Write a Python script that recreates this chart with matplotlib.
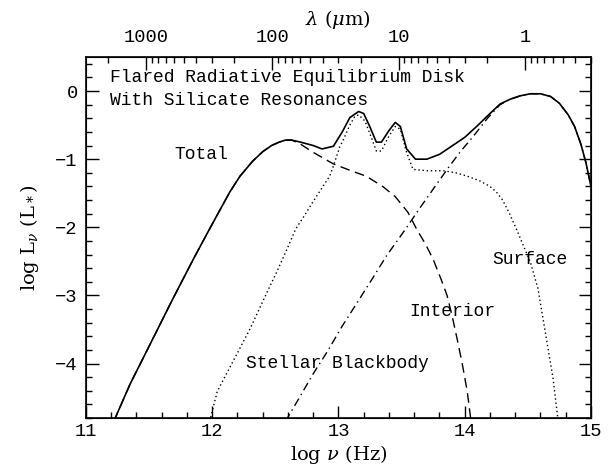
import numpy as np
import matplotlib
matplotlib.use("Agg")
import matplotlib.pyplot as plt
from matplotlib.ticker import MultipleLocator, FuncFormatter, LogLocator

plt.rcParams['font.family'] = ['DejaVu Serif']
plt.rcParams['mathtext.fontset'] = 'dejavuserif'
MONO = ['Liberation Mono', 'DejaVu Sans Mono']

# log nu (Hz) / log L_nu (L_*)
total_x = [11.22, 11.35, 11.51, 11.68, 11.85, 11.96, 12.06, 12.14, 12.22, 12.32, 12.40,
           12.47, 12.53, 12.58, 12.63, 12.70, 12.80, 12.87, 12.96, 13.03, 13.09, 13.16,
           13.20, 13.25, 13.30, 13.34, 13.40, 13.45, 13.49, 13.54, 13.61, 13.70, 13.80,
           13.88, 14.00, 14.10, 14.20, 14.28, 14.36, 14.44, 14.52, 14.60, 14.68, 14.75,
           14.82, 14.87, 14.92, 14.96, 15.0]
total_y = [-4.85, -4.30, -3.71, -3.08, -2.47, -2.09, -1.75, -1.48, -1.25, -1.03, -0.89,
           -0.80, -0.75, -0.72, -0.72, -0.75, -0.80, -0.85, -0.81, -0.60, -0.39, -0.30,
           -0.33, -0.53, -0.75, -0.75, -0.58, -0.46, -0.52, -0.85, -1.00, -1.00, -0.93,
           -0.83, -0.68, -0.51, -0.33, -0.19, -0.12, -0.07, -0.04, -0.04, -0.08, -0.18,
           -0.35, -0.52, -0.78, -1.05, -1.40]

interior_x = [11.22, 11.35, 11.51, 11.68, 11.85, 11.96, 12.06, 12.14, 12.22, 12.32, 12.40,
              12.47, 12.53, 12.58, 12.63, 12.70, 12.80, 12.96, 13.10, 13.22, 13.35, 13.45,
              13.55, 13.62, 13.69, 13.75, 13.81, 13.86, 13.90, 13.94, 13.98, 14.02, 14.05]
interior_y = [-4.85, -4.30, -3.71, -3.08, -2.47, -2.09, -1.75, -1.48, -1.25, -1.03, -0.89,
              -0.80, -0.75, -0.72, -0.72, -0.78, -0.90, -1.07, -1.17, -1.25, -1.40, -1.55,
              -1.78, -2.03, -2.25, -2.47, -2.75, -3.00, -3.30, -3.64, -4.00, -4.41, -4.85]

surface_x = [11.98, 12.04, 12.17, 12.30, 12.41, 12.51, 12.59, 12.66, 12.74, 12.80, 12.87,
             12.93, 12.96, 13.01, 13.04, 13.09, 13.13, 13.16, 13.21, 13.26, 13.30, 13.34,
             13.40, 13.45, 13.49, 13.54, 13.59, 13.70, 13.83, 13.93, 14.02, 14.12, 14.20,
             14.25, 14.30, 14.35, 14.41, 14.52, 14.58, 14.62, 14.66, 14.70, 14.74]
surface_y = [-4.85, -4.41, -3.95, -3.49, -3.05, -2.66, -2.33, -2.03, -1.80, -1.62, -1.42,
             -1.25, -1.10, -0.82, -0.71, -0.50, -0.37, -0.35, -0.44, -0.68, -0.88, -0.88,
             -0.66, -0.52, -0.56, -0.90, -1.15, -1.17, -1.17, -1.20, -1.25, -1.32, -1.40,
             -1.48, -1.60, -1.78, -2.03, -2.51, -2.90, -3.34, -3.78, -4.22, -4.85]

stellar_x = [12.58, 12.70, 12.80, 12.91, 13.03, 13.15, 13.27, 13.38, 13.53, 13.64, 13.75,
             13.88, 13.97, 14.07, 14.18, 14.28, 14.36, 14.44, 14.52, 14.60, 14.68, 14.75,
             14.82, 14.87, 14.92, 14.96, 15.0]
stellar_y = [-4.85, -4.47, -4.15, -3.83, -3.45, -3.10, -2.75, -2.42, -2.03, -1.73, -1.44,
             -1.10, -0.88, -0.66, -0.40, -0.20, -0.12, -0.07, -0.04, -0.04, -0.08, -0.18,
             -0.35, -0.52, -0.78, -1.05, -1.40]

nu_ticks = [11, 12, 13, 14, 15]
lam_ticks = [1000, 100, 10, 1]
C_UM = 2.998e14  # speed of light in micron/s

fig = plt.figure(figsize=(6.14, 4.66), dpi=100)
ax = fig.add_axes([0.140, 0.103, 0.8225, 0.7747])

lw = 1.0
ax.plot(interior_x, interior_y, color='black', lw=lw, linestyle=(0, (7, 4)))
ax.plot(surface_x, surface_y, color='black', lw=lw, linestyle=(0, (1, 2)))
ax.plot(stellar_x, stellar_y, color='black', lw=lw, linestyle=(0, (6, 3, 1, 3)))
ax.plot(total_x, total_y, color='black', lw=1.2)

ax.set_xlim(11, 15)
ax.set_ylim(-4.8, 0.5)
ax.set_xticks(nu_ticks)
ax.xaxis.set_minor_locator(MultipleLocator(0.2))
ax.yaxis.set_major_locator(MultipleLocator(1))
ax.yaxis.set_minor_locator(MultipleLocator(0.2))
ax.yaxis.set_major_formatter(FuncFormatter(lambda v, p: '%d' % round(v) if round(v) >= 0 else '\u2212%d' % abs(round(v))))
ax.tick_params(which='both', direction='in', right=True, top=False, width=1.0)
ax.tick_params(which='major', length=9)
ax.tick_params(which='minor', length=4.5)
ax.tick_params(axis='y', pad=6)
for lab in ax.get_xticklabels() + ax.get_yticklabels():
    lab.set_family(MONO)
    lab.set_fontsize(13.5)
for s in ax.spines.values():
    s.set_linewidth(1.2)

ax.set_xlabel(r'log $\nu$ (Hz)', fontsize=14, labelpad=2)
ax.set_ylabel(r'log L$_\nu$ (L$_*$)', fontsize=14, labelpad=10)

# wavelength axis on top
ax2 = ax.twiny()
ax2.set_xscale('log')
ax2.set_xlim(C_UM / 1e11, C_UM / 1e15)
ax2.set_xticks(lam_ticks)
ax2.xaxis.set_minor_locator(LogLocator(base=10, subs=np.arange(2, 10)))
ax2.xaxis.set_major_formatter(FuncFormatter(lambda v, p: '%g' % v))
ax2.xaxis.set_minor_formatter(FuncFormatter(lambda v, p: ''))
ax2.tick_params(which='both', direction='in', width=1.0, pad=8)
ax2.tick_params(which='major', length=9)
ax2.tick_params(which='minor', length=4.5)
for lab in ax2.get_xticklabels():
    lab.set_family(MONO)
    lab.set_fontsize(13.5)
ax2.set_xlabel(r'$\lambda$ ($\mu$m)', fontsize=14, labelpad=3)

ax.text(11.19, 0.20, 'Flared Radiative Equilibrium Disk', fontsize=13, family=MONO, va='center', ha='left')
ax.text(11.19, -0.14, 'With Silicate Resonances', fontsize=13, family=MONO, va='center', ha='left')
ax.text(11.91, -0.93, 'Total', fontsize=13, family=MONO, va='center', ha='center')
ax.text(14.22, -2.47, 'Surface', fontsize=13, family=MONO, va='center', ha='left')
ax.text(13.56, -3.23, 'Interior', fontsize=13, family=MONO, va='center', ha='left')
ax.text(12.27, -4.00, 'Stellar Blackbody', fontsize=13, family=MONO, va='center', ha='left')

fig.savefig('out.png', dpi=100)
